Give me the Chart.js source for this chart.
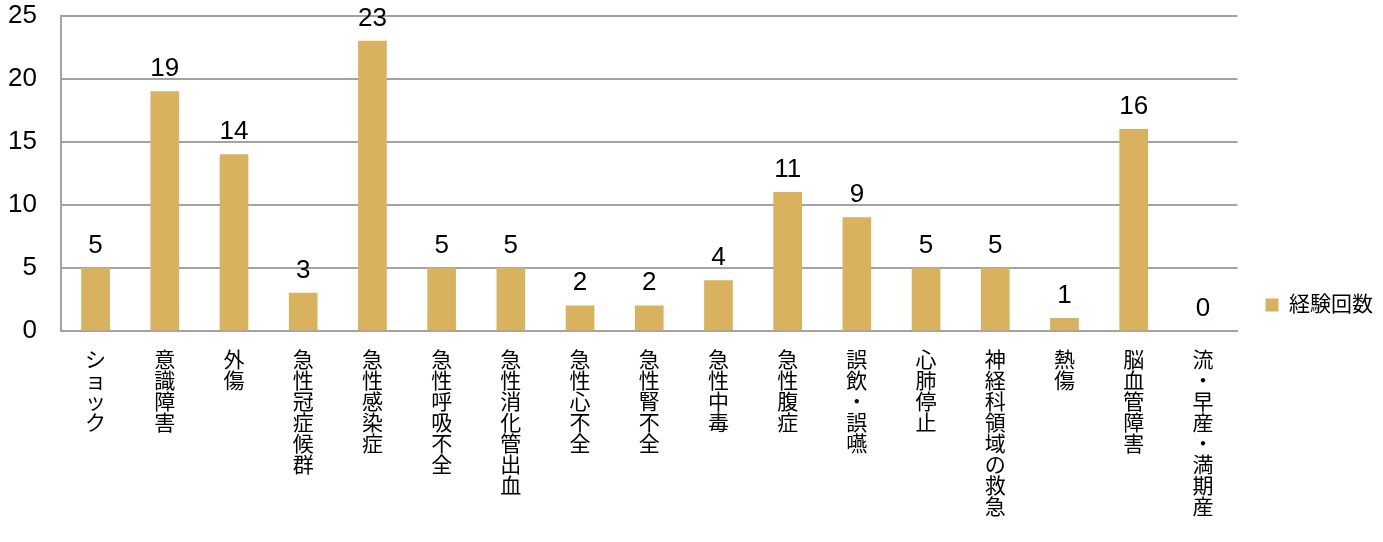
<!DOCTYPE html>
<html lang="ja">
<head>
<meta charset="utf-8">
<title>経験回数</title>
<script src="https://cdn.jsdelivr.net/npm/chart.js@4"></script>
<style>
  html, body { margin: 0; padding: 0; background: #ffffff; }
  #wrap { width: 1383px; height: 542px; position: relative; }
</style>
</head>
<body>
<div id="wrap"><canvas id="chart"></canvas></div>
<script>
// Categories (drawn as vertical text, one character per line)
const categories = [
  'ショック', '意識障害', '外傷', '急性冠症候群', '急性感染症',
  '急性呼吸不全', '急性消化管出血', '急性心不全', '急性腎不全', '急性中毒',
  '急性腹症', '誤飲・誤嚥', '心肺停止', '神経科領域の救急', '熱傷',
  '脳血管障害', '流・早産・満期産'
];

// Number of experiences per category
const counts = [5, 19, 14, 3, 23, 5, 5, 2, 2, 4, 11, 9, 5, 5, 1, 16, 0];

const seriesName = '経験回数';

// Value axis range
const yMin = 0;
const yMax = 25;
const yStep = 5;

const FONT = '"Liberation Sans", Arial, "Noto Sans CJK JP", sans-serif';
const GRID = '#a3a3a3';
const BAR = '#d9b25f';

// Writes each bar's value above it
const valueLabels = {
  id: 'valueLabels',
  afterDatasetsDraw(chart) {
    const ctx = chart.ctx;
    ctx.save();
    ctx.font = '26px ' + FONT;
    ctx.fillStyle = '#000000';
    ctx.textAlign = 'center';
    ctx.textBaseline = 'alphabetic';
    chart.data.datasets.forEach((ds, di) => {
      const meta = chart.getDatasetMeta(di);
      meta.data.forEach((bar, i) => {
        ctx.fillText(String(ds.data[i]), bar.x, bar.y - 15.5);
      });
    });
    ctx.restore();
  }
};

new Chart(document.getElementById('chart'), {
  type: 'bar',
  data: {
    labels: categories,
    datasets: [{
      label: seriesName,
      data: counts,
      backgroundColor: BAR,
      borderWidth: 0,
      barThickness: 28
    }]
  },
  options: {
    responsive: true,
    maintainAspectRatio: false,
    animation: false,
    layout: { padding: { top: 16, right: 0, bottom: 0, left: 0 } },
    plugins: {
      tooltip: { enabled: false },
      legend: {
        position: 'right',
        align: 'center',
        title: {
          display: true,
          text: '',
          font: { size: 10, lineHeight: 1 },
          padding: { top: 0, bottom: 42 }
        },
        labels: {
          boxWidth: 13,
          boxHeight: 13,
          padding: 28,
          color: '#000000',
          font: { size: 21, family: FONT }
        }
      }
    },
    scales: {
      x: {
        grid: { display: false, drawTicks: false },
        border: { display: true, color: GRID, width: 2 },
        ticks: {
          autoSkip: false,
          maxRotation: 0,
          minRotation: 0,
          padding: 20,
          color: '#000000',
          font: { size: 21, family: FONT, lineHeight: 1 },
          callback: function (value) {
            return Array.from(this.getLabelForValue(value));
          }
        },
        afterFit(scale) { scale.height = 211; }
      },
      y: {
        min: yMin,
        max: yMax,
        grid: { color: GRID, lineWidth: 2, drawTicks: false },
        border: { display: true, color: GRID, width: 2 },
        ticks: {
          stepSize: yStep,
          padding: 24,
          color: '#000000',
          font: { size: 26, family: FONT }
        },
        afterFit(scale) {
          scale.width = 61;
          scale.paddingTop = 0;
          scale.paddingBottom = 0;
        }
      }
    }
  },
  plugins: [valueLabels]
});
</script>
</body>
</html>
